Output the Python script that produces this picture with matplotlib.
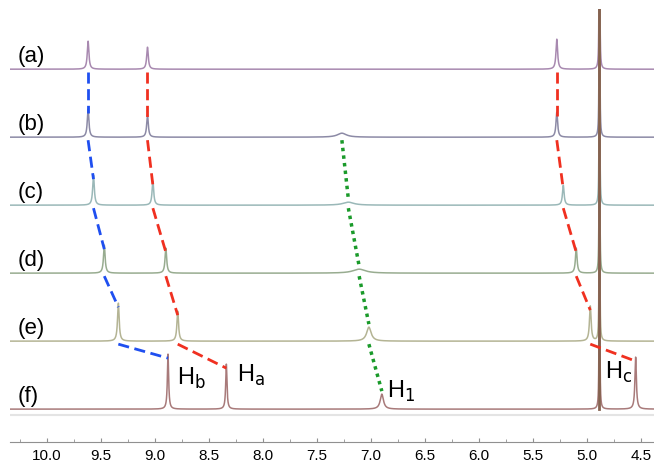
import numpy as np
import matplotlib.pyplot as plt

plt.rcParams['font.family'] = ['Liberation Sans', 'DejaVu Sans']

# spectra (a)-(f), top to bottom: peak positions (ppm), heights, half widths
labels = ['(a)', '(b)', '(c)', '(d)', '(e)', '(f)']
colors = ['#a889b0', '#8c8aa6', '#9ab8b8', '#98ac90', '#b4b494', '#a87a7a']

peaks_a = [9.62, 9.07, 5.28, 4.885]
peaks_b = [9.62, 9.07, 7.27, 5.28, 4.885]
peaks_c = [9.57, 9.02, 7.21, 5.22, 4.885]
peaks_d = [9.47, 8.90, 7.11, 5.10, 4.885]
peaks_e = [9.34, 8.79, 7.02, 4.97, 4.885]
peaks_f = [8.88, 8.34, 6.90, 4.55, 4.885]

heights_a = [28, 22, 30, 900]
heights_b = [28, 22, 4, 25, 900]
heights_c = [30, 24, 3, 20, 900]
heights_d = [28, 25, 4, 25, 900]
heights_e = [38, 30, 14, 35, 900]
heights_f = [55, 45, 15, 52, 900]

widths_a = [0.009, 0.009, 0.009, 0.0015]
widths_b = [0.009, 0.009, 0.05, 0.009, 0.0015]
widths_c = [0.009, 0.009, 0.06, 0.009, 0.0015]
widths_d = [0.009, 0.009, 0.07, 0.009, 0.0015]
widths_e = [0.009, 0.009, 0.025, 0.009, 0.0015]
widths_f = [0.007, 0.007, 0.018, 0.008, 0.0015]

all_peaks = [peaks_a, peaks_b, peaks_c, peaks_d, peaks_e, peaks_f]
all_heights = [heights_a, heights_b, heights_c, heights_d, heights_e, heights_f]
all_widths = [widths_a, widths_b, widths_c, widths_d, widths_e, widths_f]

# tracked proton shifts through (a)..(f)
track_hb = [9.62, 9.62, 9.57, 9.47, 9.34, 8.88]
track_ha = [9.07, 9.07, 9.02, 8.90, 8.79, 8.34]
track_hc = [5.28, 5.28, 5.22, 5.10, 4.97, 4.55]
track_h1 = [None, 7.27, 7.21, 7.11, 7.02, 6.90]

spacing = 68
base0 = 33
baselines = [base0 + spacing * (5 - i) for i in range(6)]

fig = plt.figure(figsize=(6.54, 4.64), dpi=100)
ax = fig.add_axes([0.0153, 0.045, 0.9847, 0.933])
ax.set_xlim(10.343, 4.38)
ax.set_ylim(0, 433)

ppm = np.linspace(10.4, 4.3, 30000)


def lorentz(x, x0, h, w):
    return h * w**2 / ((x - x0)**2 + w**2)


for i in range(6):
    y = np.zeros_like(ppm)
    for p, h, w in zip(all_peaks[i], all_heights[i], all_widths[i]):
        y += lorentz(ppm, p, h, w)
    ax.plot(ppm, y + baselines[i], color=colors[i], lw=1.1, zorder=2)
    ax.text(10.27, baselines[i] + 14, labels[i], fontsize=16, ha='left', va='center')

# faint trace under (f)
ax.plot([10.34, 4.38], [base0 - 6, base0 - 6], color='#e4e4e4', lw=1.5, zorder=1)

# tall solvent line
ax.plot([4.885, 4.885], [base0, 433], color='#85624f', lw=2.0, zorder=3)


def connect(track, color, ls, lw, gap):
    for i in range(5):
        p0, p1 = track[i], track[i + 1]
        if p0 is None:
            continue
        y0 = baselines[i] - 3
        h1 = all_heights[i + 1][all_peaks[i + 1].index(p1)]
        y1 = baselines[i + 1] + h1 + gap
        ax.plot([p0, p1], [y0, y1], color=color, ls=ls, lw=lw, zorder=4)


connect(track_hb, '#1f4ff0', (0, (4, 2)), 2.0, -4)
connect(track_ha, '#f03020', (0, (4, 2)), 2.0, -4)
connect(track_hc, '#f03020', (0, (4, 2)), 2.0, -4)
connect(track_h1, '#1a9a2a', (0, (1, 1.2)), 2.5, 3)

ax.text(8.80, base0 + 32, r'H$_\mathrm{b}$', fontsize=17, ha='left', va='center')
ax.text(8.24, base0 + 35, r'H$_\mathrm{a}$', fontsize=17, ha='left', va='center')
ax.text(6.85, base0 + 19, r'H$_\mathrm{1}$', fontsize=17, ha='left', va='center')
ax.text(4.83, base0 + 38, r'H$_\mathrm{c}$', fontsize=17, ha='left', va='center')

for s in ['top', 'left', 'right']:
    ax.spines[s].set_visible(False)
ax.spines['bottom'].set_color('#909090')
ax.set_yticks([])
ax.set_xticks(np.arange(10.0, 4.4, -0.5))
ax.set_xticks(np.arange(10.25, 4.4, -0.25), minor=True)
ax.tick_params(axis='x', direction='in', length=3, color='#909090', labelsize=11, pad=4)
ax.tick_params(axis='x', which='minor', direction='in', length=2, color='#909090')

fig.savefig('out.png', dpi=100)
